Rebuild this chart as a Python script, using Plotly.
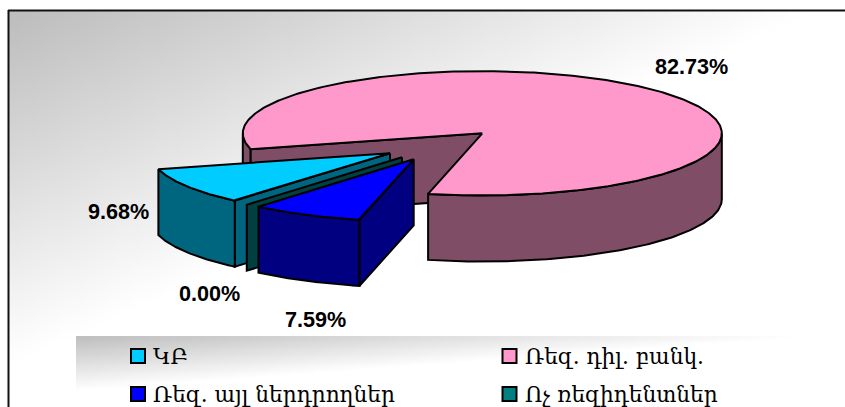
import numpy as np
import plotly.graph_objects as go

# ---- data ----
categories = ["ԿԲ", "Ռեզ. դիլ. բանկ.", "Ռեզ. այլ ներդրողներ", "Ոչ ռեզիդենտներ"]
values = [9.68, 82.73, 7.59, 0.00]
labels = ["9.68%", "82.73%", "7.59%", "0.00%"]

# ---- style ----
top_colors = ["#00CCFF", "#FF99CC", "#0000FF", "#008080"]
side_colors = ["#006680", "#804D66", "#000080", "#004040"]
first_angle = 220.4
RX, RY, DEPTH = 239.5, 62.2, 66.0
apex = {0: (390.0, 153.3), 1: (482.3, 133.3), 2: (413.7, 159.3), 3: (402.0, 157.3)}
SERIF = "DejaVu Serif"
SANS = "Liberation Sans"

fig = go.Figure()


def shade(x0, x1, y0, y1, fn, nx=60, ny=40):
    # cell edges, so the image covers exactly x0..x1, y0..y1
    xe = np.linspace(x0, x1, nx + 1)
    ye = np.linspace(y0, y1, ny + 1)
    X, Y = np.meshgrid((xe[:-1] + xe[1:]) / 2, (ye[:-1] + ye[1:]) / 2)
    z = np.clip(fn(X, Y), 0, 255)
    fig.add_trace(go.Heatmap(x=xe, y=ye, z=z, zmin=0, zmax=255, zsmooth="best",
                             colorscale=[[0, "#000000"], [1, "#FFFFFF"]],
                             showscale=False, hoverinfo="skip"))


# panel and legend backgrounds
shade(9, 845, 11, 407, lambda X, Y: 188 + 0.083 * (X - 9) + 0.19 * (Y - 11))
shade(76, 816, 336, 407, lambda X, Y: 190 + 0.088 * (X - 76) + 1.2 * (Y - 336))


def poly(xs, ys, color, name, width=2):
    fig.add_trace(go.Scatter(x=xs, y=ys, mode="lines", fill="toself", fillcolor=color,
                             line=dict(color="#000000", width=width), name=name,
                             showlegend=False, hoverinfo="skip"))


def rim(ax, ay, t0, t1, n=120):
    t = np.radians(np.linspace(t0, t1, n))
    return ax + RX * np.sin(t), ay - RY * np.cos(t)


def wall(ax, ay, t, color, name):
    x, y = rim(ax, ay, t, t, 1)
    poly([ax, x[0], x[0], ax, ax], [ay, y[0], y[0] + DEPTH, ay + DEPTH, ay], color, name)


def outer(ax, ay, t0, t1, color, name):
    a, b = max(t0, 90), min(t1, 270)
    if b > a:
        x, y = rim(ax, ay, a, b)
        poly(np.r_[x, x[::-1], x[0]], np.r_[y, y[::-1] + DEPTH, y[0]], color, name)


# slice angle spans, clockwise from 12 o'clock, starting in [0, 360)
spans = []
start = first_angle
for v in values:
    end = start + v * 3.6
    spans.append((start % 360, start % 360 + v * 3.6))
    start = end

# pink: back faces first
i = 1
ax, ay = apex[i]
t0, t1 = spans[i]
outer(ax, ay, t0, 270, side_colors[i], categories[i])
wall(ax, ay, t0, side_colors[i], categories[i])
outer(ax, ay, t0 - 360, t1 - 360, side_colors[i], categories[i])
x, y = rim(ax, ay, t0, t1, 400)
poly(np.r_[ax, x, ax], np.r_[ay, y, ay], top_colors[i], categories[i])

# cyan
i = 0
ax, ay = apex[i]
t0, t1 = spans[i]
wall(ax, ay, t0, side_colors[i], categories[i])
outer(ax, ay, t0, t1, side_colors[i], categories[i])
x, y = rim(ax, ay, t0, t1)
poly(np.r_[ax, x, ax], np.r_[ay, y, ay], top_colors[i], categories[i])

# zero-width slice: only its wall shows
i = 3
ax, ay = apex[i]
wall(ax, ay, spans[i][0], side_colors[i], categories[i])

# blue
i = 2
ax, ay = apex[i]
t0, t1 = spans[i]
outer(ax, ay, t0, t1, side_colors[i], categories[i])
wall(ax, ay, t0, side_colors[i], categories[i])
x, y = rim(ax, ay, t0, t1)
poly(np.r_[ax, x, ax], np.r_[ay, y, ay], top_colors[i], categories[i])

# percentage labels
label_pos = [(118, 211), (691, 66), (315.5, 319), (209.5, 293)]
for s, (lx, ly) in zip(labels, label_pos):
    fig.add_annotation(x=lx, y=ly, text=f"<b>{s}</b>", showarrow=False,
                       font=dict(family=SANS, size=21.6, color="#000000"))

# legend keys
key_pos = [(138, 356), (509.5, 356), (138, 394), (509.5, 394)]
for name, c, (kx, ky) in zip(categories, top_colors, key_pos):
    fig.add_trace(go.Scatter(x=[kx], y=[ky], mode="markers", showlegend=False, hoverinfo="skip",
                             marker=dict(symbol="square", size=14, color=c,
                                         line=dict(color="#000000", width=2))))
    fig.add_annotation(x=kx + 13, y=ky + 0.5, text=name, showarrow=False, xanchor="left",
                       font=dict(family=SERIF, size=21.7, color="#000000"))

fig.update_layout(
    width=845, height=407, autosize=False, margin=dict(l=0, r=0, t=0, b=0),
    paper_bgcolor="#FFFFFF", plot_bgcolor="#FFFFFF", showlegend=False,
    xaxis=dict(range=[0, 845], visible=False, fixedrange=True),
    yaxis=dict(range=[407, 0], visible=False, fixedrange=True),
    shapes=[dict(type="line", x0=8.5, x1=8.5, y0=10, y1=407, line=dict(color="#111111", width=2)),
            dict(type="line", x0=8, x1=845, y0=10.5, y1=10.5, line=dict(color="#111111", width=2))],
)
fig.write_html("out.html", config={"displayModeBar": False},
               post_script="document.body.style.margin='0';document.body.style.overflow='hidden';")
